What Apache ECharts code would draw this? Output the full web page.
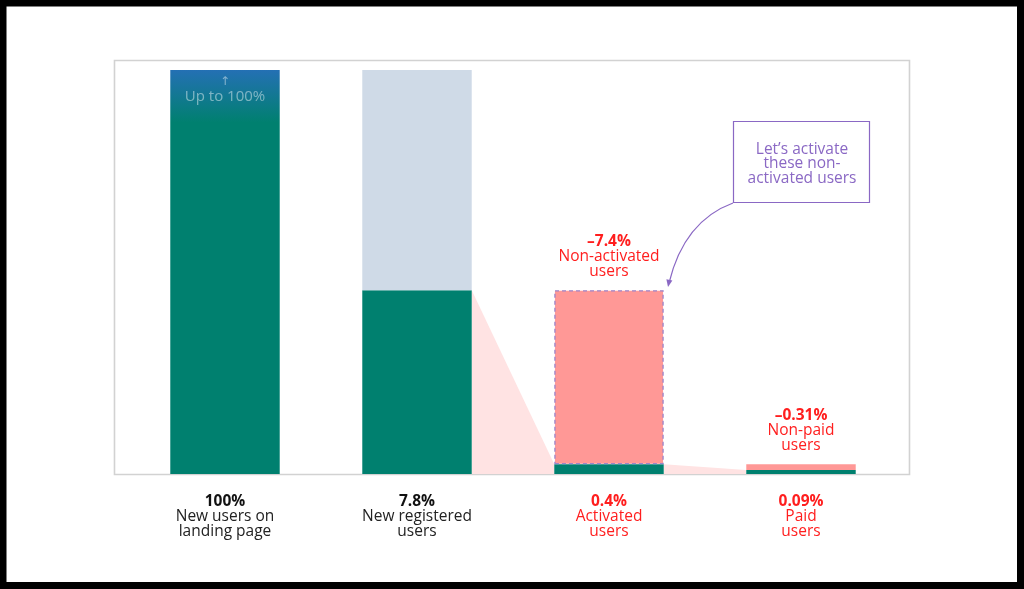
<!DOCTYPE html>
<html>
<head>
<meta charset="utf-8">
<script src="https://cdn.jsdelivr.net/npm/echarts@6/dist/echarts.min.js"></script>
<style>
html,body{margin:0;padding:0;background:#fff;}
#chart{width:1024px;height:589px;}
</style>
</head>
<body>
<div id="chart"></div>
<script>
// Data (bar heights are the illustrative, not-to-scale heights used in the picture)
const categories = ['New users on\nlanding page', 'New registered\nusers', 'Activated\nusers', 'Paid\nusers'];
const shareLabels = ['100%', '7.8%', '0.4%', '0.09%'];
const retainedHeights = [100, 45.5, 2.4, 1.0];
const droppedHeights = [0, 54.5, 43.1, 1.4];
const dropLabels = ['', '', '–7.4%', '–0.31%'];
const dropNames = ['', '', 'Non-activated\nusers', 'Non-paid\nusers'];
const firstBarNote = ['↑', 'Up to 100%'];
const annotationText = 'Let’s activate\nthese non-\nactivated users';

const FONT = 'Open Sans';
const FS = 15.5;
const TEAL = '#00806f';
const RED = '#ff1e1e';
const PURPLE = '#8a68c4';

const chart = echarts.init(document.getElementById('chart'), null, {renderer: 'canvas'});

const retainedData = retainedHeights.map((v, i) => {
  const d = {value: v};
  if (i === 0) {
    d.itemStyle = {color: new echarts.graphic.LinearGradient(0, 0, 0, 1, [
      {offset: 0, color: '#2470b4'},
      {offset: 0.13, color: TEAL},
      {offset: 1, color: TEAL}
    ])};
    d.label = {
      show: true, position: 'insideTop', distance: 5,
      formatter: '{a|' + firstBarNote[0] + '}\n{t|' + firstBarNote[1] + '}',
      rich: {
        a: {fontSize: 12, lineHeight: 13, color: 'rgba(255,255,255,0.45)', fontFamily: 'DejaVu Sans'},
        t: {fontSize: 15, lineHeight: 18, color: 'rgba(255,255,255,0.45)', fontFamily: FONT}
      }
    };
  }
  return d;
});

const droppedColors = ['#cfdae7', '#cfdae7', '#ff9896', '#ff9896'];
const droppedData = droppedHeights.map((v, i) => {
  const d = {value: v, itemStyle: {color: droppedColors[i]}};
  if (i === 2) {
    d.itemStyle.borderColor = '#9b84c9';
    d.itemStyle.borderType = [4, 3];
    d.itemStyle.borderWidth = 1.3;
  }
  if (dropLabels[i]) {
    const lines = dropNames[i].split('\n').map(s => '{r|' + s + '}').join('\n');
    d.label = {
      show: true, position: 'top', distance: 11,
      formatter: '{rb|' + dropLabels[i] + '}\n' + lines,
      rich: {
        rb: {fontSize: FS, fontWeight: 'bold', color: RED, lineHeight: 15, fontFamily: FONT},
        r: {fontSize: FS, color: RED, lineHeight: 15, fontFamily: FONT}
      }
    };
  }
  return d;
});

const connectorData = [
  [1, retainedHeights[1], retainedHeights[2]],
  [2, retainedHeights[2], retainedHeights[3]]
];

const BAR_RATIO = 0.57;

const option = {
  backgroundColor: '#fff',
  animation: false,
  grid: {left: 129, right: 127, top: 70, bottom: 115, containLabel: false},
  xAxis: {
    type: 'category',
    data: categories,
    axisLine: {show: false},
    axisTick: {show: false},
    axisLabel: {
      margin: 20,
      interval: 0,
      formatter: function (value, idx) {
        const red = idx >= 2;
        const b = red ? 'rb' : 'kb';
        const n = red ? 'r' : 'k';
        return '{' + b + '|' + shareLabels[idx] + '}\n' +
          value.split('\n').map(s => '{' + n + '|' + s + '}').join('\n');
      },
      rich: {
        kb: {fontSize: FS, fontWeight: 'bold', color: '#111', lineHeight: 15, fontFamily: FONT},
        k: {fontSize: FS, color: '#222', lineHeight: 15, fontFamily: FONT},
        rb: {fontSize: FS, fontWeight: 'bold', color: RED, lineHeight: 15, fontFamily: FONT},
        r: {fontSize: FS, color: RED, lineHeight: 15, fontFamily: FONT}
      }
    }
  },
  yAxis: {type: 'value', min: 0, max: 100, show: false, splitLine: {show: false}},
  series: [
    {
      type: 'custom',
      z: 1,
      silent: true,
      data: connectorData,
      renderItem: function (params, api) {
        const i = api.value(0);
        const band = api.size([1, 0])[0];
        const bw = band * BAR_RATIO;
        const a = api.coord([i, api.value(1)]);
        const b = api.coord([i + 1, api.value(2)]);
        const base = api.coord([i, 0])[1];
        const xR = a[0] + bw / 2;
        const xL = b[0] - bw / 2;
        return {
          type: 'polygon',
          shape: {points: [[xR, a[1]], [xL, b[1]], [xL, base], [xR, base]]},
          style: {fill: '#ffe3e3'}
        };
      }
    },
    {
      type: 'bar', stack: 'f', barWidth: (BAR_RATIO * 100) + '%', z: 3,
      itemStyle: {color: TEAL},
      data: retainedData
    },
    {
      type: 'bar', stack: 'f', barWidth: (BAR_RATIO * 100) + '%', z: 3,
      data: droppedData
    }
  ],
  graphic: [
    {
      type: 'rect', z: 0, silent: true,
      shape: {x: 114.5, y: 60.5, width: 795, height: 414},
      style: {fill: 'none', stroke: '#d2d2d2', lineWidth: 1.6}
    },
    {
      type: 'rect', z: 10, silent: true,
      shape: {x: 733.5, y: 121.5, width: 136, height: 81},
      style: {fill: '#fff', stroke: PURPLE, lineWidth: 1.2}
    },
    {
      type: 'text', z: 11, silent: true,
      x: 802, y: 164,
      style: {
        text: annotationText, fill: PURPLE, font: '15.5px "' + FONT + '"',
        align: 'center', verticalAlign: 'middle', lineHeight: 14.5
      }
    },
    {
      type: 'bezierCurve', z: 10, silent: true,
      shape: {x1: 733, y1: 203, x2: 669, y2: 283, cpx1: 684, cpy1: 221},
      style: {stroke: PURPLE, lineWidth: 1.2, fill: 'none'}
    },
    {
      type: 'polygon', z: 10, silent: true,
      shape: {points: [[668, 287], [672.4, 280.6], [666.4, 279.3]]},
      style: {fill: PURPLE}
    },
    {
      type: 'rect', z: 20, silent: true,
      shape: {x: 3, y: 3, width: 1017.5, height: 582.5},
      style: {fill: 'none', stroke: '#000', lineWidth: 7}
    }
  ]
};

chart.setOption(option);
</script>
</body>
</html>
